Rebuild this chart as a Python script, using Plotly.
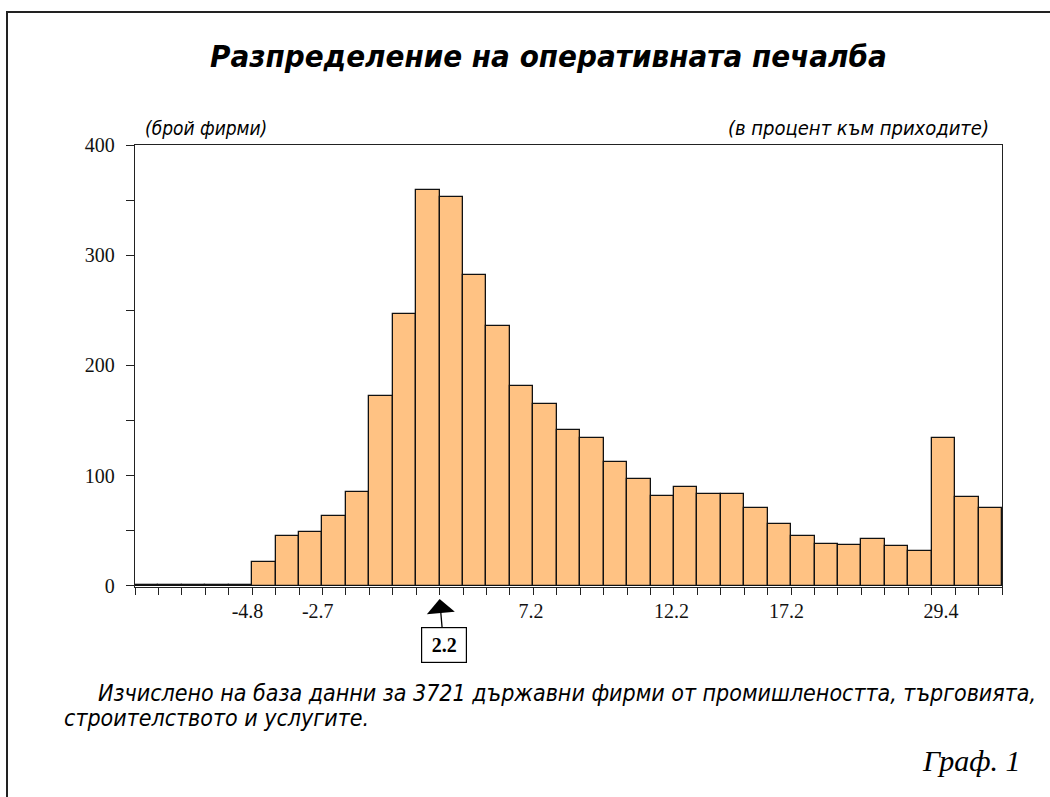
import plotly.graph_objects as go

# ---- data ----
counts = [1, 1, 1, 1, 1, 22, 45, 49, 63, 85, 172, 247, 359, 353, 282, 236, 181, 165,
          141, 134, 112, 97, 82, 90, 83, 83, 71, 56, 45, 38, 37, 43, 36, 32, 134, 81, 71]
bin_index = list(range(len(counts)))
tick_labels = ["-4.8", "-2.7", "7.2", "12.2", "17.2", "29.4"]
tick_bins = [4.8, 7.8, 16.9, 22.9, 27.8, 34.4]
median_label = "2.2"
median_bin = 13
y_ticks = [0, 100, 200, 300, 400]

title = "Разпределение на оперативната печалба"
y_unit = "(брой фирми)"
x_unit = "(в процент към приходите)"
note1 = "Изчислено на база данни за 3721 държавни фирми от промишлеността, търговията,"
note2 = "строителството и услугите."
graph_no = "Граф. 1"

# ---- layout geometry ----
W, H = 1050, 797
L, R, T, B = 135, 48, 145, 210
PW, PH = W - L - R, H - T - B


def px(x):
    return (x - L) / PW


def py(y):
    return (H - B - y) / PH


NARROW = "Liberation Sans Narrow, Arial Narrow, DejaVu Sans Condensed, sans-serif"
SERIF = "Liberation Serif, Times New Roman, serif"

fig = go.Figure()
fig.add_trace(go.Bar(
    x=[i + 0.5 for i in bin_index], y=counts, width=1,
    marker=dict(color="#FFC283", line=dict(color="#111111", width=1.3)),
    hoverinfo="y", showlegend=False,
))

fig.update_layout(
    width=W, height=H, margin=dict(l=L, r=R, t=T, b=B),
    paper_bgcolor="white", plot_bgcolor="white",
    bargap=0,
    xaxis=dict(
        range=[0, len(counts)], showgrid=False, zeroline=False,
        showline=True, linecolor="#222", linewidth=1.3, mirror=True,
        tickmode="array", tickvals=tick_bins, ticktext=tick_labels,
        ticks="", ticklabelstandoff=6,
        tickfont=dict(family=SERIF, size=20, color="#111"),
        minor=dict(tickmode="linear", tick0=0, dtick=1, ticks="outside",
                   ticklen=7, tickwidth=1.3, tickcolor="#222"),
    ),
    yaxis=dict(
        range=[-1, 400], showgrid=False, zeroline=False,
        showline=True, linecolor="#222", linewidth=1.3, mirror=True,
        tickmode="array", tickvals=y_ticks,
        ticks="outside", ticklen=8, tickwidth=1.3, tickcolor="#222",
        ticklabelstandoff=7,
        tickfont=dict(family=SERIF, size=20, color="#111"),
        minor=dict(tickmode="linear", tick0=0, dtick=50, ticks="outside",
                   ticklen=8, tickwidth=1.3, tickcolor="#222"),
    ),
)


def label(text, x, y, xanchor, size, family):
    return dict(text=text, x=px(x), y=py(y), xref="paper", yref="paper",
                xanchor=xanchor, yanchor="middle", showarrow=False,
                font=dict(family=family, size=size, color="black"))


ann = [
    label("<b><i>" + title + "</i></b>", 548, 56, "center", 31, NARROW),
    label("<i>" + y_unit + "</i>", 143, 128, "left", 19, NARROW),
    label("<i>" + x_unit + "</i>", 991, 128, "right", 20, NARROW),
    label("<i>" + note1 + "</i>", 96, 693, "left", 23, NARROW),
    label("<i>" + note2 + "</i>", 62, 718, "left", 23, NARROW),
    label("<i>" + graph_no + "</i>", 1023, 760, "right", 30, SERIF),
]
# median box with arrow pointing at the median position on the axis
ann.append(dict(text="<b>" + median_label + "</b>", x=median_bin, y=py(599),
                xref="x", yref="paper", xanchor="center", yanchor="middle",
                showarrow=True, arrowhead=1, arrowsize=3.6,
                arrowwidth=1.3, arrowcolor="black", ax=4, ay=46,
                bordercolor="black", borderwidth=1.2, bgcolor="white",
                width=42, height=32,
                font=dict(family=SERIF, size=20, color="black")))
fig.update_layout(annotations=ann)

# outer frame
fig.add_shape(type="rect", xref="paper", yref="paper",
              x0=px(7), x1=px(1070), y0=py(830), y1=py(12),
              line=dict(color="#222", width=2), fillcolor="rgba(0,0,0,0)")

fig.write_html("out.html", config={"displayModeBar": False},
               post_script="document.body.style.margin='0';")
